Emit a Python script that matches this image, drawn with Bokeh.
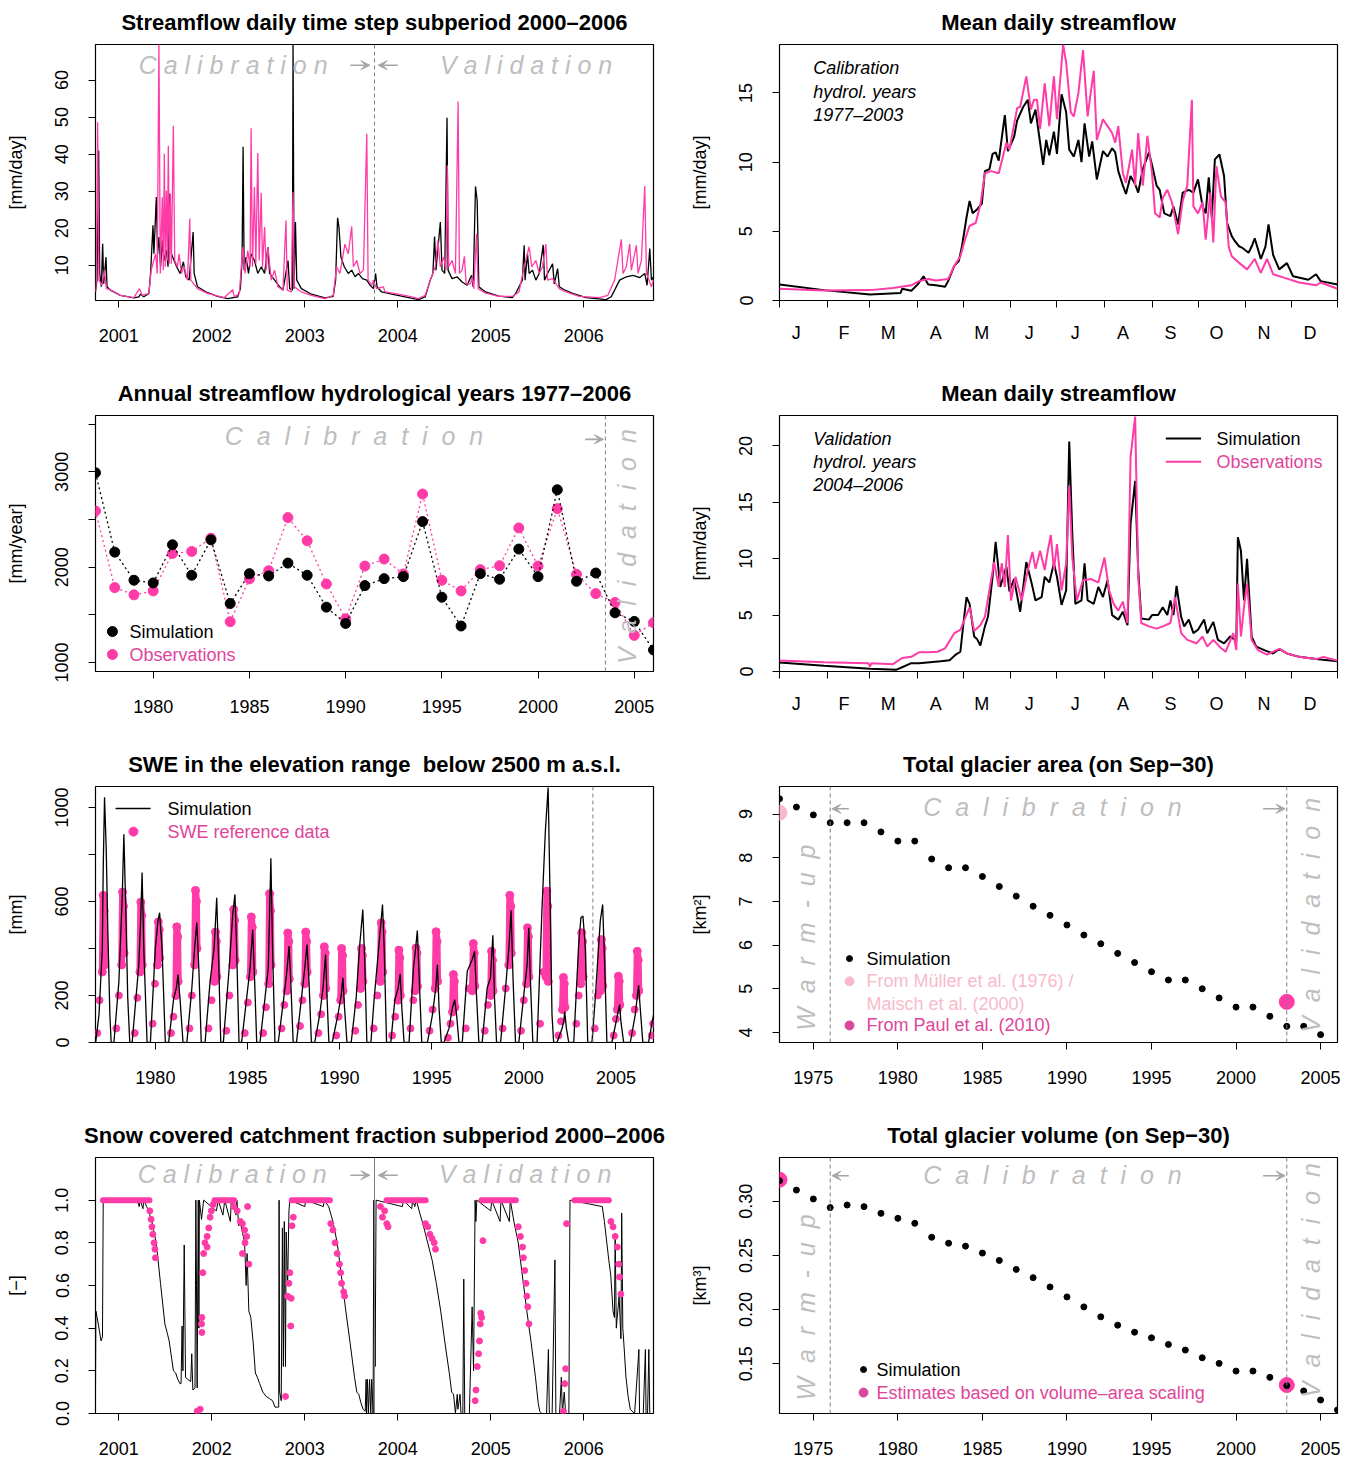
import math
from bokeh.plotting import figure
from bokeh.layouts import column, row
from bokeh.models import Range1d, FixedTicker, Arrow, VeeHead, Span
from bokeh.core.properties import value
from bokeh.embed import file_html
from bokeh.resources import INLINE

# ---------------------------------------------------------------------------
# Data
# ---------------------------------------------------------------------------

# Daily streamflow 2000-2006 [mm/day], (decimal year, value)
flow_sim = [
    (2000.75, 3.0), (2000.766, 6.0), (2000.784, 41.0), (2000.795, 7.8), (2000.813, 4.2), (2000.827, 15.8),
    (2000.838, 5.0), (2000.863, 12.2), (2000.874, 4.2), (2000.91, 3.3), (2001.018, 1.9), (2001.162, 1.2),
    (2001.216, 1.5), (2001.234, 2.2), (2001.27, 1.5), (2001.324, 2.4), (2001.342, 7.8), (2001.368, 20.8),
    (2001.378, 13.1), (2001.404, 28.4), (2001.418, 13.1), (2001.432, 17.6), (2001.45, 9.6), (2001.468, 16.7),
    (2001.486, 11.3), (2001.512, 14.0), (2001.53, 9.6), (2001.548, 29.3), (2001.566, 13.1), (2001.595, 11.3),
    (2001.623, 9.6), (2001.659, 7.8), (2001.695, 10.9), (2001.721, 6.9), (2001.757, 6.0), (2001.8, 19.0),
    (2001.811, 7.8), (2001.847, 4.2), (2001.955, 2.6), (2002.063, 1.6), (2002.171, 1.0), (2002.279, 1.5),
    (2002.308, 3.7), (2002.326, 11.3), (2002.337, 42.0), (2002.348, 8.7), (2002.369, 12.2), (2002.395, 7.8),
    (2002.423, 13.1), (2002.459, 11.3), (2002.495, 7.8), (2002.533, 9.6), (2002.568, 7.8), (2002.604, 14.9),
    (2002.622, 7.8), (2002.676, 6.0), (2002.73, 4.2), (2002.766, 3.3), (2002.82, 11.3), (2002.838, 3.7),
    (2002.867, 3.3), (2002.874, 70.0), (2002.885, 3.7), (2002.9, 21.7), (2002.914, 6.0), (2002.964, 3.7),
    (2003.072, 2.2), (2003.216, 1.2), (2003.306, 1.6), (2003.332, 6.0), (2003.353, 22.8), (2003.368, 20.3),
    (2003.389, 12.2), (2003.425, 9.6), (2003.468, 7.8), (2003.505, 8.7), (2003.541, 6.9), (2003.577, 7.8),
    (2003.62, 6.4), (2003.667, 6.0), (2003.703, 4.6), (2003.739, 3.7), (2003.762, 7.8), (2003.777, 4.2),
    (2003.827, 2.8), (2003.935, 2.2), (2004.079, 1.5), (2004.223, 0.75), (2004.295, 1.5), (2004.35, 6.0),
    (2004.378, 7.8), (2004.396, 17.8), (2004.411, 8.7), (2004.458, 21.7), (2004.476, 8.7), (2004.505, 7.8),
    (2004.53, 49.8), (2004.541, 8.7), (2004.584, 6.4), (2004.638, 6.9), (2004.692, 5.5), (2004.746, 4.6),
    (2004.793, 7.3), (2004.811, 4.2), (2004.836, 31.3), (2004.854, 27.5), (2004.872, 4.2), (2004.944, 2.8),
    (2005.088, 1.7), (2005.232, 1.3), (2005.268, 2.4), (2005.34, 6.0), (2005.359, 15.4), (2005.369, 6.0),
    (2005.395, 13.1), (2005.413, 7.8), (2005.449, 8.7), (2005.485, 6.0), (2005.521, 7.8), (2005.564, 15.5),
    (2005.578, 6.0), (2005.611, 7.8), (2005.665, 10.4), (2005.683, 5.0), (2005.719, 9.1), (2005.737, 4.2),
    (2005.791, 3.4), (2005.881, 2.4), (2006.025, 1.3), (2006.241, 0.75), (2006.295, 1.5), (2006.332, 3.3),
    (2006.386, 6.0), (2006.458, 6.9), (2006.53, 7.3), (2006.602, 6.7), (2006.656, 7.8), (2006.681, 4.6),
    (2006.71, 14.5), (2006.728, 6.0), (2006.75, 6.9),
]
flow_obs = [
    (2000.75, 2.8), (2000.759, 6.0), (2000.773, 48.6), (2000.787, 6.0), (2000.82, 4.6), (2000.845, 8.7),
    (2000.867, 3.7), (2000.91, 3.4), (2001.018, 1.9), (2001.162, 1.3), (2001.223, 3.7), (2001.252, 1.9),
    (2001.324, 2.4), (2001.349, 8.7), (2001.396, 13.1), (2001.414, 7.8), (2001.432, 70.0), (2001.447, 7.8),
    (2001.468, 28.4), (2001.479, 8.7), (2001.49, 40.1), (2001.5, 9.6), (2001.512, 30.2), (2001.523, 11.3),
    (2001.533, 42.3), (2001.544, 10.4), (2001.555, 29.3), (2001.566, 10.4), (2001.587, 47.7), (2001.602, 11.3),
    (2001.631, 9.6), (2001.649, 13.1), (2001.674, 7.8), (2001.703, 9.6), (2001.739, 6.0), (2001.764, 22.6),
    (2001.775, 6.0), (2001.847, 3.7), (2001.955, 2.4), (2002.135, 1.3), (2002.225, 3.4), (2002.243, 1.5),
    (2002.297, 2.4), (2002.333, 14.9), (2002.358, 7.8), (2002.387, 14.0), (2002.412, 9.6), (2002.423, 47.0),
    (2002.438, 9.6), (2002.459, 31.1), (2002.474, 10.4), (2002.495, 40.3), (2002.51, 11.3), (2002.532, 29.6),
    (2002.546, 9.6), (2002.568, 20.3), (2002.586, 8.7), (2002.604, 14.9), (2002.64, 6.0), (2002.676, 8.7),
    (2002.712, 4.2), (2002.766, 3.3), (2002.798, 22.1), (2002.812, 3.3), (2002.856, 2.8), (2002.874, 29.8),
    (2002.888, 4.2), (2002.964, 2.8), (2003.072, 1.9), (2003.216, 1.0), (2003.306, 1.9), (2003.342, 9.6),
    (2003.378, 7.8), (2003.432, 15.7), (2003.468, 13.1), (2003.505, 20.5), (2003.523, 9.6), (2003.559, 11.3),
    (2003.595, 7.8), (2003.631, 8.7), (2003.667, 45.5), (2003.681, 6.0), (2003.721, 4.6), (2003.737, 6.0),
    (2003.773, 3.7), (2003.845, 4.2), (2003.863, 2.8), (2004.007, 2.2), (2004.151, 1.5), (2004.223, 1.0),
    (2004.295, 1.9), (2004.35, 6.0), (2004.404, 9.6), (2004.432, 16.7), (2004.458, 9.6), (2004.494, 12.2),
    (2004.519, 8.7), (2004.533, 37.0), (2004.548, 9.6), (2004.584, 11.3), (2004.62, 7.8), (2004.649, 54.2),
    (2004.663, 7.8), (2004.692, 8.7), (2004.717, 12.4), (2004.735, 5.0), (2004.782, 5.0), (2004.8, 6.9),
    (2004.818, 3.7), (2004.847, 18.5), (2004.865, 3.7), (2004.944, 2.5), (2005.088, 1.6), (2005.232, 1.6),
    (2005.304, 2.8), (2005.359, 9.6), (2005.413, 15.0), (2005.441, 9.6), (2005.485, 11.3), (2005.521, 7.8),
    (2005.557, 9.6), (2005.593, 15.7), (2005.611, 6.0), (2005.665, 6.4), (2005.737, 3.7), (2005.809, 2.8),
    (2005.953, 1.6), (2006.169, 1.3), (2006.259, 1.9), (2006.332, 6.0), (2006.404, 17.0), (2006.422, 7.8),
    (2006.458, 9.6), (2006.494, 15.8), (2006.512, 8.7), (2006.566, 15.4), (2006.584, 7.8), (2006.62, 11.3),
    (2006.656, 31.4), (2006.674, 7.8), (2006.728, 4.2), (2006.75, 6.0),
]

# Mean daily streamflow over the calibration years [mm/day], (day of year, value)
calib_sim = [
    (1, 1.16), (30, 0.75), (60, 0.43), (80, 0.55), (81, 0.85), (87, 0.7), (91, 1.15), (95, 1.75), (98, 1.15),
    (103, 1.1), (109, 1.0), (111, 1.4), (115, 2.5), (118, 2.85), (120, 3.9), (123, 6.0), (125, 7.2), (127, 6.3),
    (130, 6.6), (133, 7.0), (135, 9.35), (138, 9.5), (140, 10.6), (142, 10.7), (144, 10.1), (148, 13.4),
    (150, 10.8), (154, 11.8), (156, 13.0), (160, 14.0), (163, 14.5), (165, 12.8), (168, 13.8), (171, 11.4),
    (173, 9.8), (175, 11.6), (177, 10.5), (180, 12.2), (182, 10.6), (185, 14.9), (188, 13.6), (190, 10.9),
    (193, 10.4), (196, 11.6), (198, 10.0), (200, 12.8), (203, 10.4), (205, 11.5), (208, 8.75), (212, 10.8),
    (215, 10.4), (218, 11.0), (220, 10.7), (222, 9.35), (225, 8.3), (227, 7.7), (230, 9.0), (233, 8.4),
    (235, 7.8), (238, 9.5), (242, 10.7), (244, 9.8), (247, 8.3), (249, 8.0), (252, 6.3), (256, 6.1),
    (258, 6.8), (261, 5.5), (264, 7.8), (268, 8.0), (271, 7.8), (274, 8.75), (277, 6.8), (279, 6.3),
    (281, 8.9), (283, 6.0), (285, 10.2), (288, 10.55), (291, 9.0), (293, 5.6), (296, 4.65), (298, 4.3),
    (301, 3.9), (303, 3.8), (307, 3.45), (309, 3.9), (311, 4.5), (315, 3.0), (318, 3.9), (320, 5.5),
    (323, 3.3), (327, 2.25), (332, 2.7), (336, 1.75), (346, 1.5), (351, 1.9), (354, 1.4), (365, 1.15),
]
calib_obs = [
    (1, 0.85), (30, 0.72), (60, 0.75), (75, 0.9), (87, 1.1), (92, 1.4), (98, 1.55), (103, 1.45), (111, 1.55),
    (115, 2.5), (119, 3.2), (122, 4.4), (125, 5.4), (129, 5.6), (132, 6.9), (135, 9.2), (139, 9.35), (144, 9.2),
    (149, 11.4), (151, 10.9), (156, 13.9), (158, 14.0), (162, 16.2), (165, 13.8), (167, 14.5), (169, 14.5),
    (171, 12.4), (174, 15.7), (177, 12.6), (180, 16.2), (182, 13.1), (186, 18.5), (188, 17.2), (191, 13.6),
    (193, 13.3), (196, 15.0), (199, 18.1), (202, 13.3), (204, 15.0), (206, 16.6), (208, 11.6), (212, 13.1),
    (215, 12.6), (218, 12.1), (220, 11.4), (222, 12.6), (225, 9.2), (227, 8.5), (231, 10.9), (233, 8.3),
    (235, 12.1), (238, 8.3), (241, 11.9), (244, 9.2), (246, 6.3), (249, 6.0), (251, 7.4), (254, 8.0),
    (257, 7.1), (261, 4.8), (264, 7.2), (267, 8.3), (270, 14.5), (271, 6.8), (274, 6.3), (277, 7.1),
    (279, 4.4), (282, 7.8), (284, 4.2), (286, 9.7), (289, 7.5), (292, 7.1), (294, 3.9), (296, 3.2),
    (301, 2.7), (306, 2.25), (311, 3.0), (315, 2.0), (319, 3.0), (323, 1.9), (330, 1.65), (340, 1.3),
    (351, 1.1), (354, 1.3), (365, 0.85),
]

# Mean daily streamflow over the validation years [mm/day]
valid_sim = [
    (1, 0.8), (30, 0.5), (60, 0.24), (77, 0.15), (81, 0.38), (87, 0.74), (92, 0.74), (101, 0.85), (106, 0.9),
    (112, 1.0), (116, 1.5), (119, 1.75), (121, 4.3), (123, 6.6), (125, 6.0), (128, 3.1), (130, 2.85),
    (132, 2.3), (135, 4.0), (137, 4.85), (140, 8.4), (142, 11.5), (145, 7.5), (149, 9.3), (151, 7.1),
    (154, 8.2), (158, 5.3), (162, 9.7), (165, 8.1), (168, 6.3), (172, 6.6), (174, 8.4), (177, 7.9),
    (180, 9.6), (182, 8.4), (185, 5.9), (188, 7.2), (190, 20.4), (192, 12.2), (194, 6.0), (198, 6.3),
    (200, 9.6), (202, 6.3), (206, 6.0), (209, 7.5), (212, 6.6), (215, 8.1), (218, 5.0), (222, 4.6),
    (225, 5.3), (228, 4.1), (230, 13.1), (233, 16.9), (235, 9.0), (237, 4.7), (242, 4.6), (244, 5.0),
    (248, 5.0), (251, 5.7), (254, 5.0), (256, 6.3), (258, 5.0), (260, 7.6), (263, 4.85), (265, 4.0),
    (268, 4.6), (271, 3.4), (274, 3.7), (278, 4.6), (280, 3.4), (284, 4.4), (287, 2.8), (291, 2.5),
    (295, 3.1), (299, 2.7), (300, 11.9), (302, 10.7), (304, 6.3), (306, 10.0), (309, 3.1), (312, 2.2),
    (318, 1.85), (323, 1.6), (327, 2.0), (332, 1.6), (340, 1.3), (351, 1.1), (365, 0.9),
]
valid_obs = [
    (1, 0.97), (30, 0.82), (59, 0.74), (60, 0.44), (61, 0.74), (75, 0.65), (81, 1.2), (87, 1.3), (92, 1.7),
    (98, 1.7), (104, 1.75), (109, 2.05), (115, 3.4), (119, 3.7), (122, 4.7), (125, 5.7), (128, 3.6),
    (132, 4.1), (135, 4.85), (139, 8.1), (141, 9.7), (144, 7.5), (146, 9.6), (148, 7.5), (150, 12.1),
    (152, 6.3), (155, 8.4), (159, 6.3), (163, 9.0), (166, 10.6), (168, 9.1), (171, 10.7), (174, 9.0),
    (176, 10.7), (178, 12.1), (180, 9.0), (182, 11.3), (185, 7.2), (188, 9.6), (190, 16.5), (192, 10.1),
    (195, 6.3), (199, 8.1), (204, 8.2), (209, 7.9), (213, 10.1), (216, 7.2), (219, 6.0), (222, 5.4),
    (225, 6.2), (228, 4.3), (230, 19.0), (233, 22.6), (235, 8.4), (237, 4.3), (242, 4.0), (247, 3.8),
    (251, 4.0), (256, 4.3), (259, 6.6), (263, 3.4), (267, 2.8), (273, 2.5), (277, 3.1), (280, 2.2),
    (284, 2.8), (288, 2.2), (292, 1.75), (297, 3.4), (299, 1.9), (300, 7.8), (302, 3.1), (304, 5.7),
    (306, 7.8), (309, 2.8), (313, 1.9), (319, 1.5), (327, 2.0), (332, 1.6), (340, 1.3), (351, 1.1),
    (356, 1.3), (365, 0.95),
]

month_letters = ["J", "F", "M", "A", "M", "J", "J", "A", "S", "O", "N", "D"]
month_label_days = [12, 43, 72, 103, 133, 164, 194, 225, 256, 286, 317, 347]
month_start_days = [1, 32, 60, 91, 121, 152, 182, 213, 244, 274, 305, 335, 365]

# Annual streamflow per hydrological year [mm/year]
hydro_years = list(range(1977, 2007))
annual_sim = [2990, 2158, 1863, 1835, 2235, 1915, 2287, 1619, 1932, 1908, 2043, 1915, 1581, 1410, 1807,
              1880, 1901, 2478, 1685, 1383, 1932, 1873, 2190, 1901, 2812, 1852, 1939, 1522, 1431, 1132]
annual_obs = [2590, 1786, 1710, 1751, 2144, 2165, 2304, 1428, 1877, 1963, 2520, 2277, 1824, 1459, 2012,
              2085, 1929, 2767, 1863, 1751, 1974, 2016, 2412, 2012, 2614, 1925, 1723, 1630, 1285, 1417]

# SWE below 2500 m a.s.l. [mm]: simulated series (decimal year, value)
swe_sim = [
    (1976.76, 0), (1976.94, 118), (1977.12, 402), (1977.17, 744), (1977.24, 1043), (1977.33, 829),
    (1977.42, 474), (1977.53, 118), (1977.60, 0),
    (1977.75, 0), (1978.02, 260), (1978.20, 616), (1978.29, 886), (1978.40, 545), (1978.50, 190), (1978.61, 0),
    (1978.74, 0), (1979.10, 331), (1979.19, 500), (1979.28, 723), (1979.37, 402), (1979.55, 0),
    (1979.73, 0), (1980.00, 402), (1980.14, 516), (1980.23, 552), (1980.36, 402), (1980.54, 0),
    (1980.72, 0), (1980.99, 185), (1981.14, 232), (1981.23, 289), (1981.35, 174), (1981.50, 0),
    (1981.71, 0), (1981.98, 232), (1982.13, 402), (1982.25, 510), (1982.36, 316), (1982.49, 0),
    (1982.70, 0), (1982.97, 260), (1983.19, 402), (1983.33, 616), (1983.44, 331), (1983.55, 0),
    (1983.69, 0), (1984.02, 331), (1984.20, 545), (1984.32, 630), (1984.41, 402), (1984.54, 0),
    (1984.68, 0), (1984.95, 185), (1985.14, 317), (1985.28, 481), (1985.39, 260), (1985.50, 0),
    (1985.68, 0), (1985.95, 189), (1986.13, 317), (1986.27, 784), (1986.36, 402), (1986.49, 0),
    (1986.67, 0), (1986.94, 171), (1987.12, 289), (1987.26, 410), (1987.35, 260), (1987.48, 0),
    (1987.66, 0), (1987.93, 189), (1988.11, 317), (1988.23, 417), (1988.34, 260), (1988.47, 0),
    (1988.65, 0), (1988.92, 118), (1989.10, 232), (1989.24, 374), (1989.32, 189), (1989.42, 0),
    (1989.60, 0), (1989.91, 118), (1990.09, 203), (1990.18, 275), (1990.27, 146), (1990.40, 0),
    (1990.63, 0), (1990.90, 189), (1991.08, 402), (1991.26, 566), (1991.37, 331), (1991.48, 0),
    (1991.70, 0), (1991.88, 189), (1992.09, 374), (1992.33, 587), (1992.42, 402), (1992.55, 0),
    (1992.78, 0), (1993.00, 182), (1993.18, 232), (1993.29, 292), (1993.38, 146), (1993.50, 0),
    (1993.77, 0), (1994.01, 317), (1994.13, 402), (1994.22, 476), (1994.33, 260), (1994.46, 0),
    (1994.77, 0), (1995.04, 118), (1995.22, 232), (1995.31, 331), (1995.40, 146), (1995.52, 0),
    (1995.67, 0), (1995.94, 61), (1996.12, 146), (1996.25, 182), (1996.35, 118), (1996.48, 0),
    (1996.66, 0), (1996.93, 303), (1997.20, 353), (1997.33, 388), (1997.44, 189), (1997.56, 0),
    (1997.74, 0), (1998.01, 232), (1998.19, 275), (1998.32, 456), (1998.41, 189), (1998.52, 0),
    (1998.74, 0), (1999.01, 232), (1999.19, 402), (1999.31, 562), (1999.42, 260), (1999.55, 0),
    (1999.73, 0), (2000.00, 203), (2000.18, 331), (2000.27, 488), (2000.36, 260), (2000.49, 0),
    (2000.72, 0), (2000.99, 573), (2001.17, 900), (2001.32, 1085), (2001.41, 687), (2001.53, 118), (2001.62, 0),
    (2001.80, 0), (2002.08, 61), (2002.17, 90), (2002.22, 132), (2002.31, 61), (2002.44, 0),
    (2002.71, 0), (2002.98, 417), (2003.10, 531), (2003.21, 538), (2003.34, 402), (2003.47, 0),
    (2003.70, 0), (2003.88, 189), (2004.15, 516), (2004.28, 587), (2004.39, 331), (2004.51, 0),
    (2004.78, 0), (2005.05, 104), (2005.20, 161), (2005.27, 90), (2005.42, 0),
    (2005.78, 0), (2006.05, 118), (2006.23, 243), (2006.32, 146), (2006.46, 0),
    (2006.77, 0), (2007.04, 118),
]

# SWE reference data: dense late-winter values, one list per winter
swe_ref_peak = [
    [(1977.12, 300), (1977.17, 626), (1977.22, 560), (1977.25, 330)],
    [(1978.17, 330), (1978.22, 640), (1978.27, 580), (1978.30, 380)],
    [(1979.16, 300), (1979.21, 597), (1979.26, 540), (1979.29, 330)],
    [(1980.11, 330), (1980.16, 513), (1980.21, 480), (1980.24, 360)],
    [(1981.11, 200), (1981.16, 492), (1981.21, 450), (1981.24, 260)],
    [(1982.13, 330), (1982.18, 647), (1982.23, 600), (1982.26, 400)],
    [(1983.21, 260), (1983.26, 470), (1983.31, 430), (1983.34, 280)],
    [(1984.20, 330), (1984.25, 566), (1984.30, 520), (1984.33, 350)],
    [(1985.16, 280), (1985.21, 534), (1985.26, 490), (1985.29, 300)],
    [(1986.15, 250), (1986.20, 633), (1986.25, 560), (1986.28, 330)],
    [(1987.14, 220), (1987.19, 466), (1987.24, 430), (1987.27, 270)],
    [(1988.11, 250), (1988.16, 470), (1988.21, 430), (1988.24, 300)],
    [(1989.12, 200), (1989.17, 407), (1989.22, 380), (1989.25, 230)],
    [(1990.06, 180), (1990.11, 400), (1990.16, 370), (1990.19, 220)],
    [(1991.14, 230), (1991.19, 400), (1991.24, 370), (1991.27, 260)],
    [(1992.21, 260), (1992.26, 509), (1992.31, 470), (1992.34, 300)],
    [(1993.17, 180), (1993.22, 393), (1993.27, 360), (1993.30, 200)],
    [(1994.10, 220), (1994.15, 402), (1994.20, 380), (1994.23, 240)],
    [(1995.19, 230), (1995.24, 471), (1995.29, 430), (1995.32, 260)],
    [(1996.13, 130), (1996.18, 289), (1996.23, 260), (1996.26, 150)],
    [(1997.21, 220), (1997.26, 421), (1997.31, 380), (1997.34, 240)],
    [(1998.20, 200), (1998.25, 388), (1998.30, 350), (1998.33, 220)],
    [(1999.19, 330), (1999.24, 626), (1999.29, 580), (1999.32, 380)],
    [(2000.15, 250), (2000.20, 488), (2000.25, 450), (2000.28, 280)],
    [(2001.20, 280), (2001.25, 644), (2001.30, 580), (2001.33, 260)],
    [(2002.10, 140), (2002.15, 277), (2002.20, 250), (2002.23, 150)],
    [(2003.09, 250), (2003.14, 467), (2003.19, 430), (2003.22, 280)],
    [(2004.16, 220), (2004.21, 438), (2004.26, 400), (2004.29, 240)],
    [(2005.08, 140), (2005.13, 282), (2005.18, 260), (2005.21, 160)],
    [(2006.11, 200), (2006.16, 388), (2006.21, 350), (2006.24, 220)],
]
# SWE reference data: sparse early-winter values
swe_ref_early = [
    (1976.85, 40), (1976.97, 180), (1977.88, 60), (1978.02, 200), (1978.88, 40), (1979.02, 190),
    (1979.85, 80), (1979.98, 250), (1980.85, 40), (1980.98, 110), (1981.85, 60), (1981.98, 200),
    (1982.88, 60), (1983.05, 180), (1983.85, 50), (1984.02, 200), (1984.85, 40), (1985.02, 170),
    (1985.85, 40), (1986.00, 150), (1986.85, 60), (1987.00, 160), (1987.85, 70), (1987.98, 180),
    (1988.85, 40), (1989.00, 120), (1989.82, 30), (1989.95, 110), (1990.85, 50), (1991.00, 160),
    (1991.85, 60), (1992.05, 200), (1992.85, 30), (1993.02, 110), (1993.85, 60), (1994.00, 180),
    (1994.88, 50), (1995.05, 140), (1995.88, 20), (1996.02, 80), (1996.85, 60), (1997.02, 230),
    (1997.88, 50), (1998.05, 160), (1998.85, 60), (1999.02, 230), (1999.85, 50), (2000.00, 180),
    (2000.88, 80), (2001.05, 300), (2001.88, 30), (2002.02, 90), (2002.85, 80), (2002.98, 200),
    (2003.85, 60), (2004.02, 200), (2004.88, 30), (2005.00, 100), (2005.88, 40), (2006.02, 140),
    (2006.95, 30), (2007.02, 80),
]

# Total glacier area on Sep-30 [km2]
glacier_years = list(range(1973, 2006))
area_sim = [9.35, 9.16, 8.98, 8.80, 8.80, 8.80, 8.59, 8.38, 8.38, 7.97, 7.77, 7.77, 7.57, 7.34, 7.12, 6.89,
            6.68, 6.46, 6.23, 6.03, 5.81, 5.60, 5.39, 5.20, 5.20, 5.00, 4.79, 4.58, 4.58, 4.37, 4.14, 4.14, 3.95]
area_mueller_year, area_mueller = 1973, 9.03
area_paul_year, area_paul = 2003, 4.70

# Total glacier volume on Sep-30 [km3]
volume_years = list(range(1973, 2007))
volume_sim = [0.319, 0.3104, 0.3022, 0.2942, 0.2966, 0.2951, 0.2889, 0.2843, 0.2797, 0.2668, 0.2613, 0.2586,
              0.2522, 0.2454, 0.2371, 0.2295, 0.2209, 0.2117, 0.2025, 0.1933, 0.1856, 0.1791, 0.1739, 0.1678,
              0.1626, 0.1555, 0.1503, 0.1432, 0.1432, 0.1374, 0.1297, 0.1248, 0.1165, 0.1073]
volume_est_years = [1973, 2003]
volume_est = [0.320, 0.1303]

# Snow covered catchment fraction [-]
snow_sim = [
    (2000.75, 0.11), (2000.754, 0.48), (2000.78, 0.42), (2000.81, 0.34), (2000.825, 0.36), (2000.833, 1.0),
    (2001.20, 1.0), (2001.22, 0.97), (2001.23, 1.0), (2001.26, 0.96), (2001.27, 1.0), (2001.30, 0.97),
    (2001.32, 0.95), (2001.357, 0.90), (2001.403, 0.80), (2001.449, 0.61), (2001.496, 0.42), (2001.52, 0.38),
    (2001.542, 0.34), (2001.565, 0.27), (2001.588, 0.20), (2001.612, 0.19), (2001.635, 0.16), (2001.658, 0.14),
    (2001.67, 0.14), (2001.681, 0.41), (2001.69, 0.20), (2001.704, 0.79), (2001.718, 0.17), (2001.74, 0.16),
    (2001.774, 0.15), (2001.785, 0.28), (2001.797, 0.11), (2001.82, 0.12), (2001.829, 1.0), (2001.836, 0.6),
    (2001.843, 0.12), (2001.855, 1.0), (2001.862, 0.4), (2001.867, 1.0), (2001.89, 0.91), (2001.913, 1.0),
    (2002.05, 0.95), (2002.07, 1.0), (2002.12, 0.93), (2002.14, 1.0), (2002.20, 0.9), (2002.21, 1.0),
    (2002.237, 0.97), (2002.26, 0.93), (2002.27, 1.0), (2002.29, 0.88), (2002.307, 0.90), (2002.33, 0.85),
    (2002.353, 0.80), (2002.37, 0.60), (2002.38, 0.75), (2002.399, 0.48), (2002.42, 0.45), (2002.446, 0.33),
    (2002.469, 0.19), (2002.49, 0.17), (2002.515, 0.14), (2002.55, 0.10), (2002.585, 0.08), (2002.62, 0.07),
    (2002.654, 0.06), (2002.68, 0.03), (2002.701, 0.03), (2002.72, 0.03), (2002.724, 1.0), (2002.73, 0.10),
    (2002.747, 0.06), (2002.76, 0.87), (2002.77, 0.22), (2002.78, 0.90), (2002.793, 0.22), (2002.80, 0.85),
    (2002.816, 0.60), (2002.83, 0.95), (2002.84, 1.0), (2003.00, 0.97), (2003.01, 1.0), (2003.20, 0.97),
    (2003.21, 1.0), (2003.257, 0.97), (2003.303, 0.90), (2003.349, 0.80), (2003.396, 0.64), (2003.442, 0.48),
    (2003.488, 0.33), (2003.535, 0.17), (2003.56, 0.10), (2003.581, 0.09), (2003.604, 0.05), (2003.627, 0.02),
    (2003.65, 0.01), (2003.66, 0.16), (2003.665, 0.0), (2003.674, 0.16), (2003.685, 0.0), (2003.697, 0.16),
    (2003.71, 0.0), (2003.72, 0.16), (2003.735, 0.0), (2003.743, 1.0), (2003.75, 0.5), (2003.757, 0.22),
    (2003.767, 1.0), (2004.05, 0.97), (2004.06, 1.0), (2004.15, 0.96), (2004.16, 1.0), (2004.183, 0.97),
    (2004.20, 1.0), (2004.23, 0.95), (2004.276, 0.88), (2004.322, 0.80), (2004.369, 0.72), (2004.415, 0.61),
    (2004.462, 0.48), (2004.508, 0.33), (2004.554, 0.19), (2004.58, 0.10), (2004.60, 0.09), (2004.62, 0.0),
    (2004.64, 0.09), (2004.647, 0.02), (2004.67, 0.09), (2004.68, 0.0), (2004.70, 0.0), (2004.71, 0.63),
    (2004.72, 0.0), (2004.77, 0.0), (2004.80, 0.50), (2004.815, 0.20), (2004.832, 1.0), (2004.84, 0.90),
    (2004.85, 1.0), (2005.00, 0.95), (2005.01, 1.0), (2005.10, 0.90), (2005.11, 1.0), (2005.20, 0.90),
    (2005.21, 1.0), (2005.249, 0.90), (2005.296, 0.80), (2005.342, 0.64), (2005.388, 0.48), (2005.435, 0.33),
    (2005.481, 0.17), (2005.51, 0.05), (2005.527, 0.01), (2005.55, 0.0), (2005.60, 0.0), (2005.62, 0.30),
    (2005.63, 0.0), (2005.66, 0.0), (2005.69, 0.72), (2005.70, 0.0), (2005.74, 0.0), (2005.759, 0.17),
    (2005.77, 0.0), (2005.79, 0.10), (2005.805, 0.0), (2005.84, 0.0), (2005.852, 1.0), (2006.199, 0.97),
    (2006.222, 0.90), (2006.269, 0.72), (2006.29, 0.65), (2006.315, 0.48), (2006.33, 0.45), (2006.338, 0.83),
    (2006.35, 0.40), (2006.38, 0.55), (2006.40, 0.35), (2006.408, 0.94), (2006.42, 0.40), (2006.431, 0.33),
    (2006.454, 0.17), (2006.477, 0.08), (2006.50, 0.02), (2006.547, 0.0), (2006.593, 0.30), (2006.60, 0.0),
    (2006.64, 0.0), (2006.663, 0.30), (2006.67, 0.0), (2006.686, 0.0), (2006.70, 0.30), (2006.71, 0.0),
    (2006.75, 0.0),
]
# periods in which the observed fraction stays at full snow cover
snow_obs_full = [(2000.83, 2001.33), (2002.03, 2002.24), (2002.86, 2003.27),
                 (2003.88, 2004.30), (2004.90, 2005.27), (2005.90, 2006.27)]
snow_obs = [
    (2001.334, 0.95), (2001.348, 0.91), (2001.357, 0.875), (2001.366, 0.84), (2001.38, 0.80), (2001.389, 0.77),
    (2001.394, 0.73), (2001.843, 0.01), (2001.876, 0.02), (2001.89, 0.42), (2001.894, 0.45), (2001.894, 0.38),
    (2001.904, 0.66), (2001.913, 0.75), (2001.927, 0.80), (2001.95, 0.83), (2001.95, 0.78), (2001.968, 0.87),
    (2001.982, 0.92), (2001.996, 0.95), (2002.015, 0.98), (2002.237, 0.97), (2002.274, 0.95), (2002.307, 0.90),
    (2002.33, 0.89), (2002.33, 0.75), (2002.353, 0.86), (2002.358, 0.80), (2002.376, 0.83), (2002.385, 0.97),
    (2002.399, 0.70), (2002.793, 0.08), (2002.816, 0.55), (2002.83, 0.61), (2002.84, 0.66), (2002.849, 0.41),
    (2002.854, 0.54), (2002.863, 0.88), (2002.877, 0.92), (2003.28, 0.89), (2003.303, 0.86), (2003.326, 0.80),
    (2003.349, 0.75), (2003.373, 0.70), (2003.386, 0.66), (2003.396, 0.61), (2003.419, 0.57), (2003.428, 0.55),
    (2003.813, 0.97), (2003.836, 0.92), (2003.859, 0.95), (2003.882, 0.89), (2003.896, 0.875), (2004.299, 0.89),
    (2004.322, 0.875), (2004.346, 0.84), (2004.369, 0.82), (2004.392, 0.80), (2004.406, 0.77), (2004.832, 0.06),
    (2004.841, 0.11), (2004.855, 0.22), (2004.869, 0.28), (2004.879, 0.34), (2004.888, 0.42), (2004.892, 0.47),
    (2004.902, 0.45), (2004.916, 0.81), (2005.296, 0.875), (2005.319, 0.83), (2005.342, 0.78), (2005.351, 0.73),
    (2005.365, 0.67), (2005.379, 0.61), (2005.388, 0.55), (2005.398, 0.50), (2005.411, 0.42), (2005.782, 0.01),
    (2005.796, 0.14), (2005.805, 0.21), (2005.815, 0.89), (2006.292, 0.90), (2006.315, 0.875), (2006.338, 0.83),
    (2006.362, 0.78), (2006.376, 0.70), (2006.385, 0.64), (2006.399, 0.56),
]

calib_end = 2003.75          # 1 Oct 2003: start of the validation period
annual_split = 2003.5
warmup_end, glacier_split = 1976.0, 2003.0

# ---------------------------------------------------------------------------
# Styling helpers
# ---------------------------------------------------------------------------
FONT = "Liberation Sans"
PINK = "#FF3BA7"
PINK_TXT = "#E0459B"
PALE_PINK = "#F8BACB"
GREY_TXT = "#BEBEBE"
GREY_ARR = "#A6A6A6"
GREY_LINE = "#808080"


def unzip(pairs):
    return [a for a, _ in pairs], [b for _, b in pairs]


def spaced(word, wide=False):
    sep = "\u00a0 " if wide else " "
    return sep.join(word)


def make_fig(title, xr, yr, col, last=False):
    p = figure(width=677, height=346 if last else 371,
               x_range=Range1d(*xr), y_range=Range1d(*yr),
               output_backend="svg", toolbar_location=None,
               min_border_left=95 if col == 0 else 102,
               min_border_right=24 if col == 0 else 17,
               min_border_top=44, min_border_bottom=46 if last else 71)
    p.title.text = title
    p.title.align = "center"
    p.title.vertical_align = "top"
    p.title.standoff = 15
    p.title.text_font = FONT
    p.title.text_font_size = "22px"
    p.title.text_font_style = "bold"
    p.title.text_color = "black"
    p.grid.visible = False
    p.outline_line_color = "black"
    p.outline_line_width = 1.2
    return p


def set_axes(p, xticks, xlabels, yticks, ylabels, ylabel, xminor=None):
    xa, ya = p.xaxis[0], p.yaxis[0]
    xa.ticker = FixedTicker(ticks=xticks, minor_ticks=xminor or [])
    xa.major_label_overrides = dict(zip(xticks, xlabels))
    ya.ticker = FixedTicker(ticks=yticks)
    ya.major_label_overrides = dict(zip(yticks, ylabels))
    ya.axis_label = ylabel
    for ax in (xa, ya):
        ax.axis_line_color = None
        ax.major_tick_line_color = "black"
        ax.major_tick_out = 7
        ax.major_tick_in = 0
        ax.minor_tick_line_color = None
        ax.minor_tick_in = 0
        ax.minor_tick_out = 0
        ax.major_label_text_font = FONT
        ax.major_label_text_font_size = "18px"
        ax.major_label_text_color = "black"
        ax.axis_label_text_font = FONT
        ax.axis_label_text_font_size = "18px"
        ax.axis_label_text_font_style = "normal"
        ax.axis_label_text_color = "black"
    xa.major_label_standoff = 21
    ya.major_label_orientation = "vertical"
    ya.major_label_standoff = 20
    ya.axis_label_standoff = 27
    if xminor:
        xa.major_label_standoff = 15
        xa.major_tick_line_color = None
        xa.minor_tick_line_color = "black"
        xa.minor_tick_out = 7


def add_text(p, x, y, txt, size="18px", color="black", style="normal", align="left", angle=0.0):
    p.text(x=[x], y=[y], text=[txt], text_font=value(FONT), text_font_size=value(size),
           text_font_style=style, text_color=color, text_align=align,
           text_baseline="middle", angle=angle)


def add_arrow(p, x0, x1, y):
    p.add_layout(Arrow(end=VeeHead(size=9, fill_color=GREY_ARR, line_color=GREY_ARR, line_width=1),
                       x_start=x0, y_start=y, x_end=x1, y_end=y,
                       line_color=GREY_ARR, line_width=1.6))


def add_vline(p, x, dashed=True):
    p.add_layout(Span(location=x, dimension="height", line_color=GREY_LINE, line_width=1,
                      line_dash="4 3" if dashed else "solid"))


year_ticks_6 = [2001, 2002, 2003, 2004, 2005, 2006]
year_ticks_5 = [1980, 1985, 1990, 1995, 2000, 2005]
glacier_ticks = [1975, 1980, 1985, 1990, 1995, 2000, 2005]

# ---------------------------------------------------------------------------
# Streamflow, daily time step
# ---------------------------------------------------------------------------
pA = make_fig("Streamflow daily time step subperiod 2000\u20132006", (2000.75, 2006.75), (0.5, 69.6), 0)
set_axes(pA, year_ticks_6, [str(t) for t in year_ticks_6], [10, 20, 30, 40, 50, 60],
         ["10", "20", "30", "40", "50", "60"], "[mm/day]")
x, y = unzip(flow_sim)
pA.line(x, y, line_color="black", line_width=1.3)
x, y = unzip(flow_obs)
pA.line(x, y, line_color=PINK, line_width=1.3)
add_vline(pA, calib_end)
add_text(pA, 2002.23, 64, spaced("Calibration"), size="25px", color=GREY_TXT, style="italic", align="center")
add_text(pA, 2005.38, 64, spaced("Validation"), size="25px", color=GREY_TXT, style="italic", align="center")
add_arrow(pA, calib_end - 0.26, calib_end - 0.05, 64)
add_arrow(pA, calib_end + 0.25, calib_end + 0.04, 64)

# ---------------------------------------------------------------------------
# Mean daily streamflow, calibration years
# ---------------------------------------------------------------------------
pB = make_fig("Mean daily streamflow", (1, 365), (0, 18.5), 1)
set_axes(pB, month_label_days, month_letters, [0, 5, 10, 15], ["0", "5", "10", "15"], "[mm/day]",
         xminor=month_start_days)
x, y = unzip(calib_sim)
pB.line(x, y, line_color="black", line_width=2)
x, y = unzip(calib_obs)
pB.line(x, y, line_color=PINK, line_width=2)
for txt, yy in zip(["Calibration", "hydrol. years", "1977\u20132003"], [16.77, 15.1, 13.44]):
    add_text(pB, 23, yy, txt, style="italic")

# ---------------------------------------------------------------------------
# Annual streamflow
# ---------------------------------------------------------------------------
pC = make_fig("Annual streamflow hydrological years 1977\u20132006", (1977, 2006), (906, 3591), 0)
set_axes(pC, year_ticks_5, [str(t) for t in year_ticks_5], [1000, 1500, 2000, 2500, 3000, 3500],
         ["1000", "", "2000", "", "3000", ""], "[mm/year]")
pC.line(hydro_years, annual_obs, line_color=PINK, line_width=1.3, line_dash="2 3")
pC.scatter(hydro_years, annual_obs, size=10, color=PINK)
pC.line(hydro_years, annual_sim, line_color="black", line_width=1.3, line_dash="2 3")
pC.scatter(hydro_years, annual_sim, size=10, color="black")
add_vline(pC, annual_split)
add_text(pC, 1990.43, 3371, spaced("Calibration", True), size="25px", color=GREY_TXT, style="italic",
         align="center")
add_text(pC, 2004.6, 2216, spaced("Validation", True), size="25px", color=GREY_TXT, style="italic",
         align="center", angle=math.pi / 2)
add_arrow(pC, annual_split - 1.05, annual_split - 0.1, 3341)
pC.scatter([1977.88], [1325], size=10, color="black")
add_text(pC, 1978.77, 1325, "Simulation")
pC.scatter([1977.88], [1084], size=10, color=PINK)
add_text(pC, 1978.77, 1084, "Observations", color=PINK_TXT)

# ---------------------------------------------------------------------------
# Mean daily streamflow, validation years
# ---------------------------------------------------------------------------
pD = make_fig("Mean daily streamflow", (1, 365), (0, 22.7), 1)
set_axes(pD, month_label_days, month_letters, [0, 5, 10, 15, 20], ["0", "5", "10", "15", "20"], "[mm/day]",
         xminor=month_start_days)
x, y = unzip(valid_sim)
pD.line(x, y, line_color="black", line_width=2)
x, y = unzip(valid_obs)
pD.line(x, y, line_color=PINK, line_width=2)
for txt, yy in zip(["Validation", "hydrol. years", "2004\u20132006"], [20.66, 18.6, 16.58]):
    add_text(pD, 23, yy, txt, style="italic")
pD.line([253, 276], [20.66, 20.66], line_color="black", line_width=2)
add_text(pD, 286, 20.66, "Simulation")
pD.line([253, 276], [18.6, 18.6], line_color=PINK, line_width=2)
add_text(pD, 286, 18.6, "Observations", color=PINK_TXT)

# ---------------------------------------------------------------------------
# Snow water equivalent
# ---------------------------------------------------------------------------
pE = make_fig("SWE in the elevation range\u00a0 below 2500 m a.s.l.", (1976.75, 2007.04), (0, 1089), 0)
set_axes(pE, year_ticks_5, [str(t) for t in year_ticks_5], [0, 200, 400, 600, 800, 1000],
         ["0", "200", "", "600", "", "1000"], "[mm]")
ref_xs = [[t for t, _ in w] for w in swe_ref_peak]
ref_ys = [[v for _, v in w] for w in swe_ref_peak]
pE.multi_line(ref_xs, ref_ys, line_color=PINK, line_width=7, line_cap="round", line_join="round")
pE.scatter(sum(ref_xs, []), sum(ref_ys, []), size=8, color=PINK)
x, y = unzip(swe_ref_early)
pE.scatter(x, y, size=7, color=PINK)
x, y = unzip(swe_sim)
pE.line(x, y, line_color="black", line_width=1.3)
add_vline(pE, calib_end)
pE.line([1977.84, 1979.74], [995, 995], line_color="black", line_width=1.5)
add_text(pE, 1980.66, 995, "Simulation")
pE.scatter([1978.81], [897], size=9, color=PINK)
add_text(pE, 1980.66, 897, "SWE reference data", color=PINK_TXT)

# ---------------------------------------------------------------------------
# Glacier area
# ---------------------------------------------------------------------------
pF = make_fig("Total glacier area (on Sep\u221230)", (1973, 2006), (3.77, 9.63), 1)
set_axes(pF, glacier_ticks, [str(t) for t in glacier_ticks], [4, 5, 6, 7, 8, 9],
         ["4", "5", "6", "7", "8", "9"], "[km\u00b2]")
add_vline(pF, warmup_end)
add_vline(pF, glacier_split)
pF.scatter([area_mueller_year], [area_mueller], size=15, color=PALE_PINK)
pF.scatter([area_paul_year], [area_paul], size=15, color=PINK)
pF.scatter(glacier_years, area_sim, size=6, color="black")
add_text(pF, 1989.14, 9.17, spaced("Calibration", True), size="25px", color=GREY_TXT, style="italic",
         align="center")
add_text(pF, 1974.54, 6.17, spaced("Warm-up", True), size="25px", color=GREY_TXT, style="italic",
         align="center", angle=math.pi / 2)
add_text(pF, 2004.46, 6.68, spaced("Validation", True), size="25px", color=GREY_TXT, style="italic",
         align="center", angle=math.pi / 2)
add_arrow(pF, warmup_end + 1.1, warmup_end + 0.1, 9.12)
add_arrow(pF, glacier_split - 1.4, glacier_split - 0.1, 9.12)
pF.scatter([1977.14], [5.69], size=6, color="black")
add_text(pF, 1978.14, 5.69, "Simulation")
pF.scatter([1977.14], [5.17], size=9, color=PALE_PINK)
add_text(pF, 1978.14, 5.17, "From M\u00fcller et al. (1976) /", color=PALE_PINK)
add_text(pF, 1978.14, 4.64, "Maisch et al. (2000)", color=PALE_PINK)
pF.scatter([1977.14], [4.16], size=9, color="#D9489C")
add_text(pF, 1978.14, 4.16, "From Paul et al. (2010)", color=PINK_TXT)

# ---------------------------------------------------------------------------
# Snow covered fraction
# ---------------------------------------------------------------------------
pG = make_fig("Snow covered catchment fraction subperiod 2000\u20132006", (2000.75, 2006.75), (0, 1.2), 0,
              last=True)
set_axes(pG, year_ticks_6, [str(t) for t in year_ticks_6], [0.0, 0.2, 0.4, 0.6, 0.8, 1.0],
         ["0.0", "0.2", "0.4", "0.6", "0.8", "1.0"], "[\u2212]")
x, y = unzip(snow_sim)
pG.line(x, y, line_color="black", line_width=1)
pG.segment(x0=[a for a, _ in snow_obs_full], y0=[1.0] * len(snow_obs_full),
           x1=[b for _, b in snow_obs_full], y1=[1.0] * len(snow_obs_full),
           line_color=PINK, line_width=6, line_cap="round")
x, y = unzip(snow_obs)
pG.scatter(x, y, size=6, color=PINK)
add_vline(pG, calib_end, dashed=False)
add_text(pG, 2002.22, 1.125, spaced("Calibration"), size="25px", color=GREY_TXT, style="italic", align="center")
add_text(pG, 2005.37, 1.125, spaced("Validation"), size="25px", color=GREY_TXT, style="italic", align="center")
add_arrow(pG, calib_end - 0.26, calib_end - 0.05, 1.117)
add_arrow(pG, calib_end + 0.25, calib_end + 0.04, 1.117)

# ---------------------------------------------------------------------------
# Glacier volume
# ---------------------------------------------------------------------------
pH = make_fig("Total glacier volume (on Sep\u221230)", (1973, 2006), (0.104, 0.3405), 1, last=True)
set_axes(pH, glacier_ticks, [str(t) for t in glacier_ticks], [0.15, 0.20, 0.25, 0.30],
         ["0.15", "0.20", "0.25", "0.30"], "[km\u00b3]")
add_vline(pH, warmup_end)
add_vline(pH, glacier_split)
pH.scatter(volume_est_years, volume_est, size=15, color=PINK)
pH.scatter(volume_years, volume_sim, size=6, color="black")
add_text(pH, 1989.14, 0.3239, spaced("Calibration", True), size="25px", color=GREY_TXT, style="italic",
         align="center")
add_text(pH, 1974.54, 0.2019, spaced("Warm-up", True), size="25px", color=GREY_TXT, style="italic",
         align="center", angle=math.pi / 2)
add_text(pH, 2004.46, 0.2268, spaced("Validation", True), size="25px", color=GREY_TXT, style="italic",
         align="center", angle=math.pi / 2)
add_arrow(pH, warmup_end + 1.1, warmup_end + 0.1, 0.3237)
add_arrow(pH, glacier_split - 1.4, glacier_split - 0.1, 0.3237)
pH.scatter([1977.97], [0.1446], size=6, color="black")
add_text(pH, 1978.74, 0.1446, "Simulation")
pH.scatter([1977.97], [0.1233], size=9, color="#D9489C")
add_text(pH, 1978.74, 0.1233, "Estimates based on volume\u2013area scaling", color=PINK_TXT)

layout = column(row(pA, pB), row(pC, pD), row(pE, pF), row(pG, pH))
open("out.html", "w").write(file_html(layout, INLINE))
